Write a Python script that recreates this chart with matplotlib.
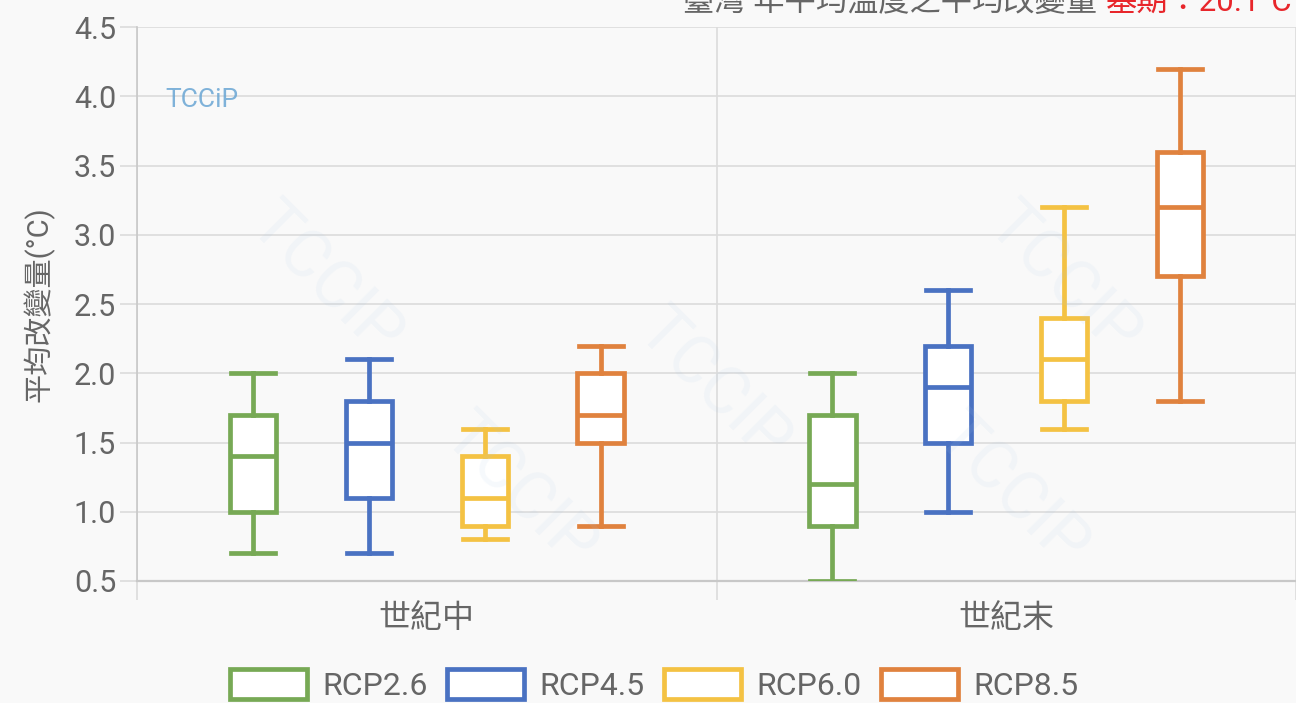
import matplotlib.pyplot as plt
from matplotlib.patches import Patch

plt.rcParams['font.family'] = ['Roboto', 'Noto Sans CJK TC', 'DejaVu Sans']

# 資料
periods = ["世紀中", "世紀末"]
scenarios = ["RCP2.6", "RCP4.5", "RCP6.0", "RCP8.5"]
colors = ["#77a955", "#4a72c2", "#f4c243", "#e0823e"]

# 每個情境: [最小, Q1, 中位數, Q3, 最大]
mid_century = [
    [0.7, 1.0, 1.4, 1.7, 2.0],
    [0.7, 1.1, 1.5, 1.8, 2.1],
    [0.8, 0.9, 1.1, 1.4, 1.6],
    [0.9, 1.5, 1.7, 2.0, 2.2],
]
end_century = [
    [0.5, 0.9, 1.2, 1.7, 2.0],
    [1.0, 1.5, 1.9, 2.2, 2.6],
    [1.6, 1.8, 2.1, 2.4, 3.2],
    [1.8, 2.7, 3.2, 3.6, 4.2],
]
yticks = [0.5, 1.0, 1.5, 2.0, 2.5, 3.0, 3.5, 4.0, 4.5]

bg = "#f9f9f9"
grid_c = "#dcdcdc"
text_c = "#666666"

fig = plt.figure(figsize=(12.96, 7.03), dpi=100, facecolor=bg)
ax = fig.add_axes([137 / 1296, 1 - 581 / 703, 1 - 137 / 1296, (581 - 27) / 703])
ax.set_facecolor(bg)

# 浮水印
for (wx, wy) in [(0.25, 0.6), (0.55, 0.45), (0.82, 0.6), (0.4, 0.3), (0.78, 0.3)]:
    fig.text(wx, wy, "TCCIP", rotation=-45, fontsize=48, color="#a8c8e8",
             alpha=0.10, ha="center", va="center", zorder=0)

offsets = [-0.3, -0.1, 0.1, 0.3]
width = 0.08
for ci, data in enumerate([mid_century, end_century]):
    for si, vals in enumerate(data):
        lo, q1, med, q3, hi = vals
        stats = [dict(whislo=lo, q1=q1, med=med, q3=q3, whishi=hi, fliers=[])]
        c = colors[si]
        ax.bxp(stats, positions=[ci + 0.5 + offsets[si]], widths=width,
               capwidths=width * 0.95, patch_artist=True, showfliers=False,
               boxprops=dict(facecolor="white", edgecolor=c, linewidth=3.4),
               medianprops=dict(color=c, linewidth=3.4),
               whiskerprops=dict(color=c, linewidth=3.4),
               capprops=dict(color=c, linewidth=3.4),
               manage_ticks=False, zorder=3)

ax.set_xlim(0, 2)
ax.set_ylim(0.5, 4.5)
ax.set_yticks(yticks)
ax.set_yticklabels([f"{v:.1f}" for v in yticks])
ax.set_xticks([0, 1, 2], minor=True)
ax.set_xticks([0.5, 1.5])
ax.set_xticklabels(periods)

ax.grid(axis="y", color=grid_c, linewidth=1.2, zorder=1)
ax.grid(axis="x", which="minor", color=grid_c, linewidth=1.2, zorder=1)
ax.tick_params(axis="y", length=12, color=grid_c, width=1.2, labelsize=22,
               labelcolor=text_c, pad=3)
ax.tick_params(axis="x", which="minor", length=14, color=grid_c, width=1.2)
ax.tick_params(axis="x", which="major", length=0, labelsize=23,
               labelcolor=text_c, pad=16)
for s in ["top", "right"]:
    ax.spines[s].set_visible(False)
ax.spines["left"].set_color("#c8c8c8")
ax.spines["bottom"].set_color("#c8c8c8")
ax.spines["left"].set_linewidth(1.2)
ax.spines["bottom"].set_linewidth(1.6)

ax.set_ylabel("平均改變量(°C)", fontsize=21, color=text_c, labelpad=14)

# 標題 (上緣被裁切)
fig.text(683 / 1296, 1 - 2 / 703, "臺灣 年平均溫度之平均改變量", fontsize=22.5,
         color=text_c, ha="left", va="center")
fig.text(1106 / 1296, 1 - 2 / 703, "基期：20.1°C", fontsize=22.5,
         color="#e8262b", ha="left", va="center")

# TCCIP logo
fig.text(165 / 1296, 1 - 100 / 703, "TCCiP", fontsize=19, color="#6aa6d4",
         ha="left", va="center", alpha=0.85)

handles = [Patch(facecolor="white", edgecolor=c, linewidth=3.4) for c in colors]
fig.legend(handles, scenarios, loc="center", bbox_to_anchor=(0.505, 0.026),
           ncol=4, frameon=False, fontsize=23, labelcolor=text_c,
           handlelength=2.4, handleheight=1.1, handletextpad=0.5,
           columnspacing=0.6)

fig.savefig("out.png", dpi=100, facecolor=bg)
